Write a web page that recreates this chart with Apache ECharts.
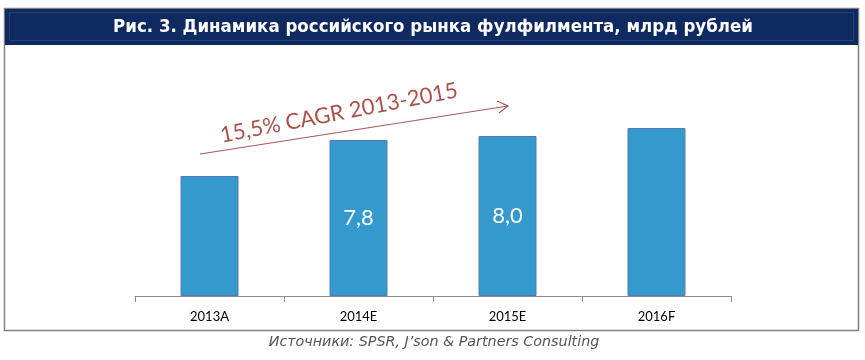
<!DOCTYPE html>
<html><head><meta charset="utf-8">
<script src="https://cdn.jsdelivr.net/npm/echarts@6/dist/echarts.min.js"></script>
<style>html,body{margin:0;padding:0;background:#fff}#c{width:865px;height:360px}</style>
</head><body><div id="c"></div>
<script>
const categories = ['2013A', '2014E', '2015E', '2016F'];
const values = [6.0, 7.8, 8.0, 8.4];
const shownLabels = [null, '7,8', '8,0', null];
const titleText = 'Рис. 3. Динамика российского рынка фулфилмента, млрд рублей';
const cagrText = '15,5% CAGR 2013-2015';
const sourceText = 'Источники: SPSR, J’son & Partners Consulting';

const chart = echarts.init(document.getElementById('c'), null, {renderer: 'canvas'});
chart.setOption({
  animation: false,
  backgroundColor: '#ffffff',
  graphic: [
    {type: 'rect', shape: {x: 4.5, y: 8.5, width: 854, height: 322}, style: {fill: 'none', stroke: '#808080', lineWidth: 1.5}, z: 1},
    {type: 'rect', shape: {x: 5, y: 9, width: 853, height: 36}, style: {fill: '#0e2a60'}, z: 2},
    {type: 'rect', shape: {x: 9.5, y: 12.5, width: 844, height: 28}, style: {fill: 'none', stroke: '#23427a', lineWidth: 1}, z: 3},
    {type: 'text', x: 433, y: 27, style: {text: titleText, fill: '#ffffff', font: 'bold 18.5px "DejaVu Sans Condensed", "DejaVu Sans", sans-serif', align: 'center', verticalAlign: 'middle'}, z: 5},
    {type: 'line', shape: {x1: 200, y1: 154, x2: 508, y2: 106}, style: {stroke: '#a85a55', lineWidth: 1.2}, z: 5},
    {type: 'polyline', shape: {points: [[497, 101], [508, 106], [499, 113]]}, style: {stroke: '#a85a55', lineWidth: 1.2, fill: 'none'}, z: 5},
    {type: 'text', x: 339, y: 113, rotation: 0.19, style: {text: cagrText, fill: '#a9524c', font: '22px Lato, "Liberation Sans", sans-serif', align: 'center', verticalAlign: 'middle'}, z: 5},
    {type: 'text', x: 434, y: 342, style: {text: sourceText, fill: '#555555', font: 'italic 14.3px "DejaVu Sans", sans-serif', align: 'center', verticalAlign: 'middle'}, z: 5}
  ],
  grid: {left: 135, right: 134, top: 96, bottom: 64, containLabel: false},
  xAxis: {
    type: 'category', data: categories,
    axisLine: {lineStyle: {color: '#8c8c8c', width: 1}},
    axisTick: {show: true, alignWithLabel: false, length: 6, lineStyle: {color: '#8c8c8c'}},
    axisLabel: {color: '#000000', fontSize: 13, fontFamily: 'Lato, "Liberation Sans", sans-serif', margin: 14}
  },
  yAxis: {type: 'value', min: 0, max: 10, show: false, splitLine: {show: false}},
  series: [{
    type: 'bar', data: values, barWidth: 58,
    itemStyle: {color: '#3499cd', borderColor: '#5a78b8', borderWidth: 1},
    label: {
      show: true, position: 'inside', color: '#ffffff', fontSize: 22,
      fontFamily: 'Lato, "Liberation Sans", sans-serif',
      formatter: p => shownLabels[p.dataIndex] || ''
    }
  }]
});
</script></body></html>
